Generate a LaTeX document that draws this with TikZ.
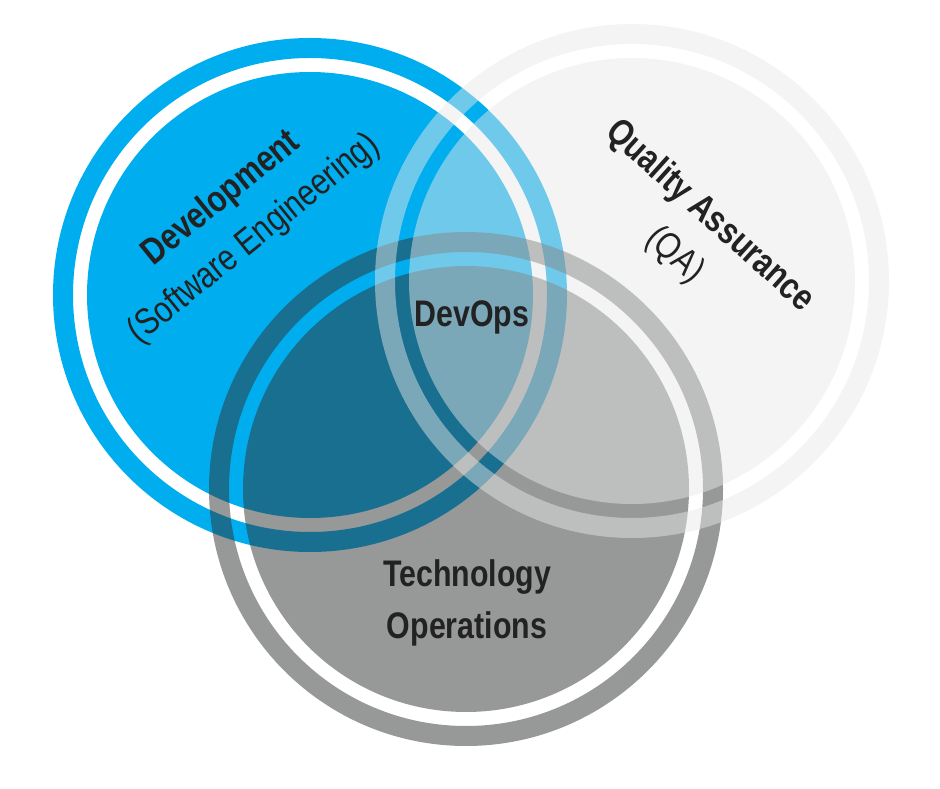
\documentclass[tikz,border=0pt]{standalone}
\usepackage{fontspec}
\setmainfont{Liberation Sans}[FakeStretch=0.82]
\usetikzlibrary{positioning}

\definecolor{devblue}{HTML}{00AEEF}
\definecolor{opsgray}{RGB}{48,50,49}
\definecolor{qagray}{RGB}{232,232,232}
\definecolor{txt}{HTML}{222222}

\begin{document}
\begin{tikzpicture}[x=1pt,y=1pt,
  label/.style={text=txt,align=center,font=\fontsize{37}{52}\selectfont}]

\useasboundingbox (0,0) rectangle (940,788);

% Centres
\coordinate (devc) at (310,493);
\coordinate (opsc) at (466,299);
\coordinate (qac)  at (632,507);

% Cercles : bande, vide blanc, disque
\foreach \c/\col/\op in {devc/devblue/1, opsc/opsgray/0.5, qac/qagray/0.48}
{
\fill[\col,fill opacity=\op,even odd rule]
  (\c) circle (257pt) circle (237pt) circle (223pt);
}

% Textes
\node[label,rotate=39] (dev) at (238,569)
  {\textbf{Development}\\(Software Engineering)};
\node[label,rotate=-42] (qa) at (692,552)
  {\textbf{Quality Assurance}\\(QA)};
\node[label,font=\fontsize{37}{52}\selectfont\bfseries] (devops) at (472,471) {DevOps};
\node[label,font=\fontsize{37}{52}\selectfont\bfseries] (ops) at (467,185)
  {Technology\\Operations};

\end{tikzpicture}
\end{document}
